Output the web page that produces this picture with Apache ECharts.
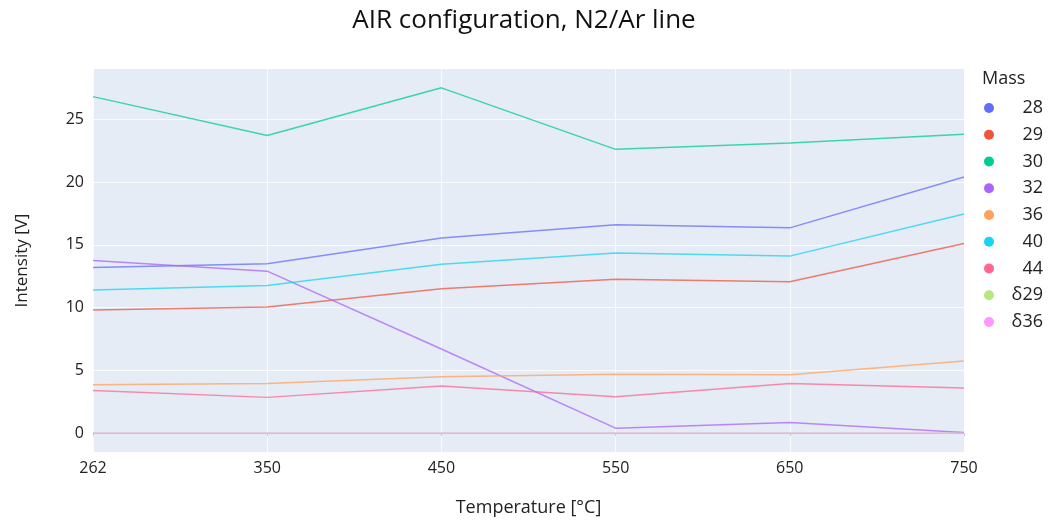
<!DOCTYPE html>
<html>
<head>
<meta charset="utf-8">
<script src="https://cdn.jsdelivr.net/npm/echarts@6/dist/echarts.min.js"></script>
<style>html,body{margin:0;padding:0;background:#fff;}#chart{width:1048px;height:522px;}</style>
</head>
<body>
<div id="chart"></div>
<script>
const temperatures = ['262', '350', '450', '550', '650', '750'];
const seriesNames = ['28', '29', '30', '32', '36', '40', '44', 'δ29', 'δ36'];
const mass28 = [13.2, 13.5, 15.55, 16.6, 16.35, 20.4];
const mass29 = [9.8, 10.05, 11.5, 12.25, 12.05, 15.1];
const mass30 = [26.8, 23.7, 27.5, 22.6, 23.1, 23.8];
const mass32 = [13.75, 12.9, 6.7, 0.4, 0.85, 0.05];
const mass36 = [3.85, 3.95, 4.5, 4.7, 4.65, 5.75];
const mass40 = [11.4, 11.75, 13.45, 14.35, 14.1, 17.45];
const mass44 = [3.4, 2.85, 3.75, 2.9, 3.95, 3.6];
const delta29 = [0, 0, 0, 0, 0, 0];
const delta36 = [0, 0, 0, 0, 0, 0];
const yTicks = [0, 5, 10, 15, 20, 25];
const seriesData = [mass28, mass29, mass30, mass32, mass36, mass40, mass44, delta29, delta36];
const colors = ['#636EFA', '#EF553B', '#00CC96', '#AB63FA', '#FFA15A', '#19D3F3', '#FF6692', '#B6E880', '#FF97FF'];
const FONT = '"Open Sans", "Noto Sans", sans-serif';

const chart = echarts.init(document.getElementById('chart'), null, {renderer: 'canvas'});
chart.setOption({
  animation: false,
  color: colors,
  textStyle: {fontFamily: FONT},
  title: [
    {text: 'AIR configuration, N2/Ar line', left: 'center', top: 3,
     textStyle: {fontFamily: FONT, fontSize: 26, fontWeight: 'normal', color: '#111'}},
    {text: 'Mass', left: 982, top: 70, padding: 0,
     textStyle: {fontFamily: FONT, fontSize: 18, fontWeight: 'normal', color: '#222'}}
  ],
  legend: {
    orient: 'vertical', left: 984, top: 98, padding: 0,
    icon: 'circle', itemWidth: 10, itemHeight: 10, itemGap: 6.75,
    data: seriesNames,
    formatter: (name) => '{a|' + name + '}',
    textStyle: {
      fontFamily: FONT, fontSize: 18, color: '#222', lineHeight: 20,
      rich: {a: {fontFamily: FONT, fontSize: 18, color: '#222', width: 44, align: 'right', lineHeight: 20}}
    }
  },
  grid: {left: 93, right: 84, top: 69, bottom: 69, show: true, backgroundColor: '#E5ECF6', borderWidth: 0},
  xAxis: {
    type: 'category', data: temperatures, boundaryGap: false,
    name: 'Temperature [°C]', nameLocation: 'middle', nameGap: 47,
    nameTextStyle: {fontFamily: FONT, fontSize: 18, color: '#222'},
    axisLine: {show: false},
    axisTick: {show: true, length: 3, lineStyle: {color: '#ccc'}},
    axisLabel: {fontFamily: FONT, fontSize: 16, color: '#222', margin: 8},
    splitLine: {show: true, lineStyle: {color: '#fff', width: 1, opacity: 0.8}}
  },
  yAxis: {
    type: 'value', min: -1.5, max: 29,
    name: 'Intensity [V]', nameLocation: 'middle', nameGap: 62, nameRotate: 90,
    nameTextStyle: {fontFamily: FONT, fontSize: 17, color: '#222'},
    axisLine: {show: false},
    axisTick: {show: false, customValues: yTicks},
    axisLabel: {fontFamily: FONT, fontSize: 16, color: '#222', margin: 9, customValues: yTicks},
    splitLine: {show: true, lineStyle: {color: '#fff', width: 1, opacity: 0.8}}
  },
  series: seriesNames.map((n, i) => ({
    name: n, type: 'line', data: seriesData[i],
    showSymbol: false, symbol: 'circle',
    lineStyle: {width: 1.5, opacity: 0.75},
    itemStyle: {color: colors[i]}
  }))
});
</script>
</body>
</html>
